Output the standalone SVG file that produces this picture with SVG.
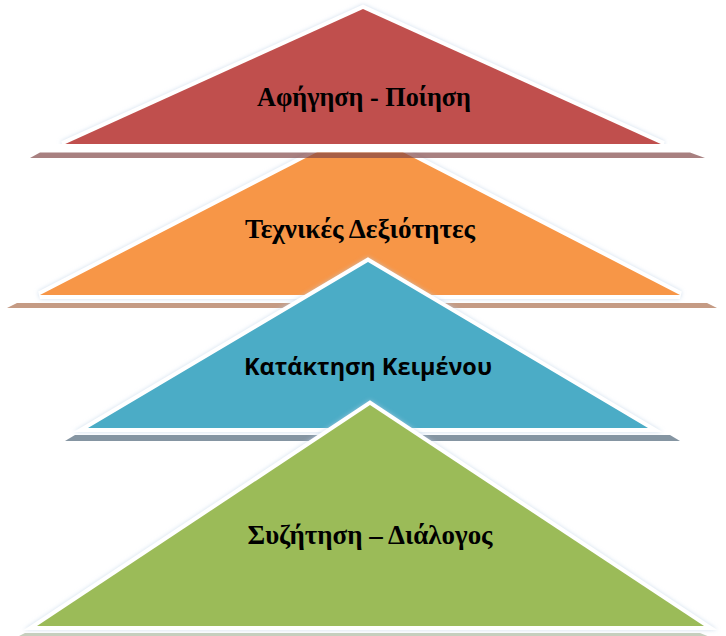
<svg xmlns="http://www.w3.org/2000/svg" width="726" height="636" viewBox="0 0 726 636">
  <defs>
    <filter id="glow" x="-10%" y="-10%" width="120%" height="130%">
      <feDropShadow dx="0" dy="0" stdDeviation="2" flood-color="#b9cfe6" flood-opacity="0.7"/>
    </filter>
  </defs>
  <style>
    .tri { stroke: #ffffff; stroke-width: 8; paint-order: stroke; stroke-linejoin: miter; filter: url(#glow); }
    .lbl { font-family: "Liberation Serif", "Times New Roman", serif; font-weight: bold; font-size: 26.5px; fill: #000; text-anchor: middle; }
    .lbl-sans { font-family: "Open Sans", "Liberation Sans", sans-serif; font-weight: bold; font-size: 24px; fill: #000; text-anchor: middle; }
  </style>
  <rect width="726" height="636" fill="#ffffff"/>

  <g id="tier-orange">
    <polygon class="tri" points="360,130 680,295 40,295" fill="#f79646"/>
    <polygon points="17,303 707,303 717,308 7,308" fill="#bb8a6e" opacity="0.85"/>
    <text class="lbl" x="360" y="238" textLength="230" lengthAdjust="spacingAndGlyphs">Τεχνικές Δεξιότητες</text>
  </g>

  <g id="tier-red">
    <polygon class="tri" points="363,9 663,145 63,145" fill="#c0504d"/>
    <polygon points="45,144 685,144 690,152.5 40,152.5" fill="#ffffff"/>
    <polygon points="40,152.5 690,152.5 705,158 30,158" fill="#7f4444" opacity="0.68"/>
    <text class="lbl" x="364" y="106" textLength="214" lengthAdjust="spacingAndGlyphs">Αφήγηση - Ποίηση</text>
  </g>

  <g id="tier-blue">
    <polygon class="tri" points="368,262 648,428 88,428" fill="#4bacc6"/>
    <polygon points="75,435 670,435 680,441 65,441" fill="#8595a2"/>
    <text class="lbl-sans" x="368" y="375" textLength="248" lengthAdjust="spacingAndGlyphs">Κατάκτηση Κειμένου</text>
  </g>

  <g id="tier-green">
    <polygon class="tri" points="370,405 704,626 37,626" fill="#9bbb59"/>
    <polygon points="25,633 700,633 710,637 17,637" fill="#c6cfbe"/>
    <text class="lbl" x="370" y="544" textLength="245" lengthAdjust="spacingAndGlyphs">Συζήτηση – Διάλογος</text>
  </g>

  <g id="connectors"/>
</svg>
